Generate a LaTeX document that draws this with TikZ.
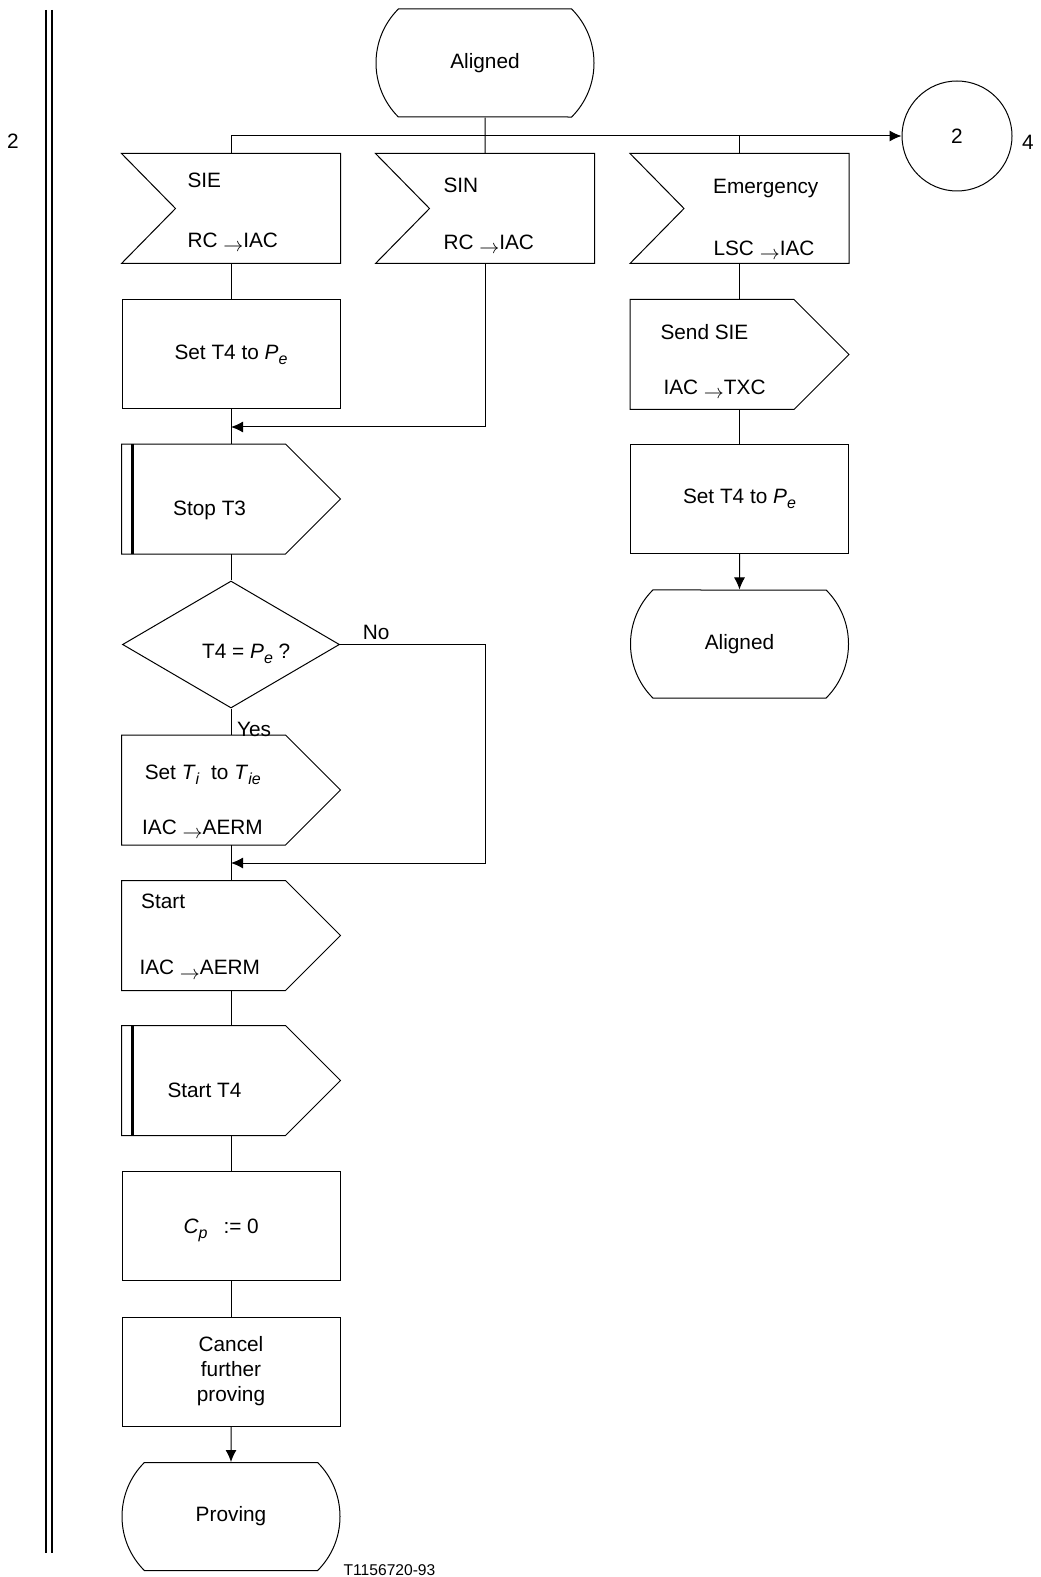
\documentclass[tikz,border=0pt]{standalone}
\usepackage{fontspec}
\setmainfont{Liberation Sans}
\usepackage{tikz}
\usetikzlibrary{shapes.geometric}
\usetikzlibrary{shapes.misc}
\usetikzlibrary{arrows.meta}

\newcommand{\isub}[2]{\textit{#1}\raisebox{-2.6pt}{\fontsize{8}{9}\selectfont\textit{#2}}}
\newcommand{\tto}{\raisebox{-0.4ex}{$\rightarrow$}}

\tikzset{
  box/.style={minimum width=109pt,minimum height=54.5pt,inner sep=0pt},
  task/.style={box,draw},
  state/.style={draw,rounded rectangle,rounded rectangle arc length=90,
    minimum width=109pt,minimum height=54pt,inner sep=0pt},
  insig/.style={box,append after command={\pgfextra{\draw[line width=0.5pt]
    (\tikzlastnode.north west) -- (\tikzlastnode.north east) -- (\tikzlastnode.south east)
    -- (\tikzlastnode.south west) -- ([xshift=27pt]\tikzlastnode.west) -- cycle;}}},
  outsig/.style={box,append after command={\pgfextra{\draw[line width=0.5pt]
    (\tikzlastnode.north west) -- ([xshift=-27.5pt]\tikzlastnode.north east) -- (\tikzlastnode.east)
    -- ([xshift=-27.5pt]\tikzlastnode.south east) -- (\tikzlastnode.south west) -- cycle;}}},
  timer/.style={outsig,append after command={\pgfextra{\draw[line width=1.1pt]
    ([xshift=5.5pt]\tikzlastnode.north west) -- ([xshift=5.5pt]\tikzlastnode.south west);}}},
  decide/.style={draw,diamond,minimum width=108.5pt,minimum height=63.5pt,inner sep=0pt},
  conn/.style={draw,circle,minimum size=55pt,inner sep=0pt},
  txt/.style={anchor=west,inner sep=0pt,text height=7.5pt,text depth=0pt}
}

\begin{document}
\begin{tikzpicture}[x=0.5pt,y=-0.5pt,line width=0.5pt,
    font=\fontsize{10.4}{12.5}\selectfont,
    arr/.style={-{Latex[length=6pt,width=5.5pt]}}]
  \useasboundingbox (0,0) rectangle (1040,1577);

  % page border and margin references
  \draw[line width=1pt] (45.7,10) -- (45.7,1553);
  \draw[line width=1pt] (52.3,10) -- (52.3,1553);
  \node (pgL) at (13,141) {2};
  \node (pgR) at (1028,142) {4};
  \node[font=\fontsize{7.8}{9}\selectfont] (fig) at (389.5,1570) {T1156720-93};

  % symbols
  \node[state] (alA) at (485,63) {Aligned};
  \node[conn] (c2) at (957,136) {\raisebox{-2pt}{2}};
  \node[insig] (sie) at (231,208.5) {};
  \node[insig] (sin) at (485,208.5) {};
  \node[insig] (emg) at (739.5,208.5) {};
  \node[task] (setA) at (231,354.5) {Set T4 to \isub{P}{e}};
  \node[outsig] (send) at (739.5,354.5) {};
  \node[timer] (stopT) at (231,499) {};
  \node[task] (setB) at (739.5,499) {Set T4 to \isub{P}{e}};
  \node[decide] (dec) at (231,644.5) {};
  \node[state] (alB) at (739.5,644) {Aligned};
  \node[outsig] (setTi) at (231,790) {};
  \node[outsig] (start) at (231,935.5) {};
  \node[timer] (startT) at (231,1080.5) {};
  \node[task] (cp) at (231,1225.5) {};
  \node[task,align=center] (cancel) at (231,1371.5) {Cancel\\further\\proving};
  \node[state] (prov) at (231,1516.5) {Proving};

  % texts in the symbols
  \node[txt] (sieA) at (187,180) {SIE};
  \node[txt] (sieB) at (187,240) {RC \tto IAC};
  \node[txt] (sinA) at (443,185) {SIN};
  \node[txt] (sinB) at (443,242) {RC \tto IAC};
  \node[txt] (emgA) at (712.7,186) {Emergency};
  \node[txt] (emgB) at (713,248) {LSC \tto IAC};
  \node[txt] (sendA) at (660,332) {Send SIE};
  \node[txt] (sendB) at (663,387) {IAC \tto TXC};
  \node[txt] (stopA) at (172.7,508) {Stop T3};
  \node[txt] (decA) at (201.7,651) {T4 = \isub{P}{e} ?};
  \node[txt] (setTiA) at (144.3,771.7) {Set \isub{T}{i}\ \ to \isub{T}{ie}};
  \node[txt] (setTiB) at (141.7,826.7) {IAC \tto AERM};
  \node[txt] (startA) at (140.7,901) {Start};
  \node[txt] (startB) at (139,967.3) {IAC \tto AERM};
  \node[txt] (startTA) at (167,1090) {Start T4};
  \node[txt] (cpA) at (183,1226) {\isub{C}{p}\hspace{8pt}:= 0};

  % flow lines
  \coordinate (m1) at (231,427);
  \coordinate (m2) at (231,863);
  \draw[arr] (sie) |- (c2);
  \draw (emg) -- (emg |- c2);
  \draw[arr] (sin) |- (m1);
  \draw[arr] (dec.east) -- node[above,pos=.25,inner sep=2pt] (no) {No} (dec.east -| sin) |- (m2);
  \path (alA) edge (sin)
    (sie) edge (setA)
    (setA) edge (stopT)
    (stopT) edge (dec)
    (dec) edge node[pos=.8,anchor=west,inner sep=0pt,xshift=2.8pt] (yes) {Yes} (setTi)
    (setTi) edge (start)
    (start) edge (startT)
    (startT) edge (cp)
    (cp) edge (cancel)
    (emg) edge (send)
    (send) edge (setB);
  \draw[arr] (cancel) -- (prov);
  \draw[arr] (setB) -- (alB);
\end{tikzpicture}
\end{document}
